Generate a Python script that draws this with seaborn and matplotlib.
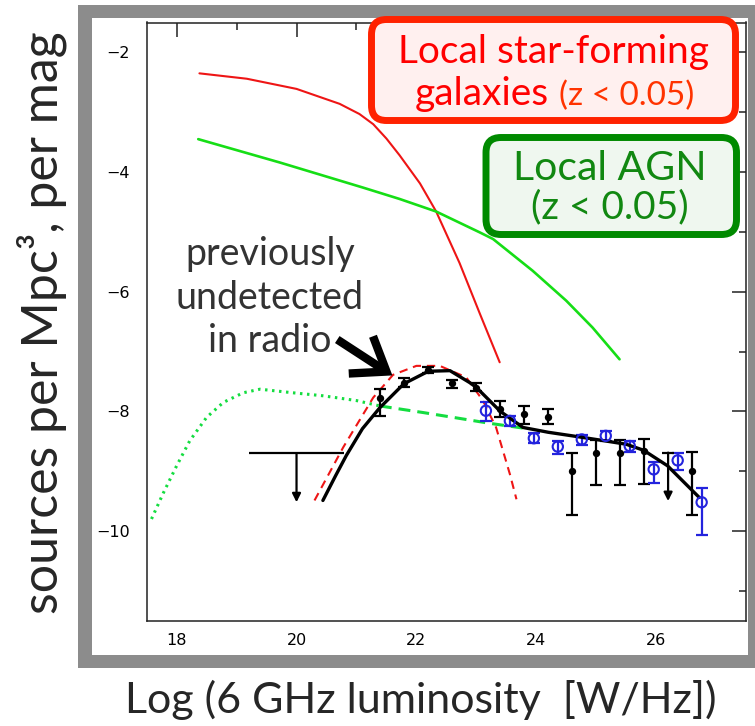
import numpy as np
import pandas as pd
import matplotlib
matplotlib.use("Agg")
import matplotlib.pyplot as plt
import matplotlib.transforms as mtransforms
from matplotlib.patches import Rectangle, FancyBboxPatch
import seaborn as sns

# ---------------- data ----------------
sf_x = [18.38, 19.17, 20.0, 20.72, 21.05, 21.28, 21.5, 21.72, 22.06, 22.33, 22.72, 23.06, 23.39]
sf_y = [-2.35, -2.44, -2.61, -2.86, -3.03, -3.20, -3.44, -3.72, -4.19, -4.66, -5.52, -6.37, -7.18]

agn_x = [18.36, 19.72, 21.11, 21.72, 22.33, 23.06, 23.28, 23.94, 24.5, 24.94, 25.39]
agn_y = [-3.45, -3.84, -4.26, -4.45, -4.66, -5.01, -5.12, -5.65, -6.15, -6.60, -7.13]

dot_x = [17.58, 17.78, 18.0, 18.22, 18.5, 18.78, 19.11, 19.39, 19.94, 20.44, 21.0, 21.39]
dot_y = [-9.80, -9.36, -8.91, -8.49, -8.10, -7.85, -7.69, -7.63, -7.69, -7.74, -7.82, -7.91]

gdash_x = [21.39, 22.11, 22.67, 23.22, 23.78]
gdash_y = [-7.91, -8.02, -8.11, -8.20, -8.28]

rdash_x = [20.3, 20.78, 21.28, 21.61, 22.0, 22.39, 22.83, 23.11, 23.33, 23.56, 23.67]
rdash_y = [-9.49, -8.60, -7.77, -7.39, -7.24, -7.24, -7.43, -7.82, -8.27, -9.05, -9.47]

fit_x = [20.44, 20.65, 20.83, 21.1, 21.39, 21.79, 22.2, 22.56, 22.89, 23.0, 23.4, 23.78, 24.2,
         24.67, 25.06, 25.5, 25.79, 26.19, 26.72]
fit_y = [-9.49, -9.08, -8.74, -8.29, -7.94, -7.54, -7.33, -7.32, -7.52, -7.60, -8.00, -8.27, -8.35,
         -8.42, -8.48, -8.55, -8.65, -8.91, -9.44]

blk_x = [21.4, 21.8, 22.2, 22.6, 23.0, 23.4, 23.8, 24.2, 24.6, 25.0, 25.4, 25.8, 26.6]
blk_y = [-7.78, -7.52, -7.31, -7.53, -7.61, -7.96, -8.04, -8.09, -8.99, -8.69, -8.69, -8.67, -8.99]
blk_up = [0.15, 0.07, 0.045, 0.06, 0.08, 0.13, 0.13, 0.13, 0.30, 0.21, 0.21, 0.21, 0.31]
blk_dn = [0.30, 0.08, 0.055, 0.08, 0.055, 0.13, 0.18, 0.12, 0.74, 0.54, 0.54, 0.54, 0.74]

blu_x = [23.16, 23.56, 23.96, 24.36, 24.76, 25.16, 25.56, 25.96, 26.36, 26.76]
blu_y = [-7.99, -8.16, -8.45, -8.59, -8.47, -8.41, -8.58, -8.97, -8.82, -9.52]
blu_up = [0.14, 0.09, 0.08, 0.10, 0.08, 0.08, 0.09, 0.13, 0.12, 0.23]
blu_dn = [0.18, 0.09, 0.08, 0.12, 0.09, 0.08, 0.10, 0.22, 0.16, 0.55]

ul_x = [20.0, 26.2]
ul_y = [-8.70, -8.69]
ul_halfwidth = [0.8, 0.1]
ul_depth = [0.82, 0.81]

x_ticks = [18, 20, 22, 24, 26]
y_ticks = [-2, -4, -6, -8, -10]

# ---------------- figure ----------------
sns.set_style("white")
plt.rcParams['font.family'] = ['Lato', 'DejaVu Sans']

W, H = 755, 726
fig = plt.figure(figsize=(W / 100, H / 100), dpi=100)
fig.patch.set_facecolor("white")
# transform: image pixels (origin top-left) -> figure
PX = mtransforms.Affine2D().scale(1 / W, -1 / H).translate(0, 1) + fig.transFigure

# grey frame
fig.patches.append(Rectangle((78, 5), 677, 663, transform=PX, facecolor="#8c8c8c",
                             edgecolor="none", zorder=-3))
fig.patches.append(Rectangle((92, 18), 656, 637, transform=PX, facecolor="white",
                             edgecolor="none", zorder=-2))

L, R, T, B = 146.7, 746.0, 22.5, 620.7
ax = fig.add_axes([L / W, 1 - B / H, (R - L) / W, (B - T) / H])
ax.set_facecolor("none")

RED = "#ee1515"
GREEN = "#16de16"
BLUE = "#2323dd"

sns.lineplot(x=sf_x, y=sf_y, ax=ax, color=RED, lw=1.5, sort=False, estimator=None)
sns.lineplot(x=agn_x, y=agn_y, ax=ax, color=GREEN, lw=1.9, sort=False, estimator=None)
sns.lineplot(x=dot_x, y=dot_y, ax=ax, color="#14dd40", lw=2.2, sort=False, estimator=None,
             linestyle=(0, (0.8, 1.5)), solid_capstyle="butt")
sns.lineplot(x=gdash_x, y=gdash_y, ax=ax, color="#14dd40", lw=2.2, sort=False, estimator=None,
             linestyle=(0, (3.9, 2.3)))
sns.lineplot(x=rdash_x, y=rdash_y, ax=ax, color=RED, lw=1.5, sort=False, estimator=None,
             linestyle=(0, (4, 2.8)))
sns.lineplot(x=fit_x, y=fit_y, ax=ax, color="black", lw=2.4, sort=False, estimator=None, zorder=5)

# error bars
ax.errorbar(blk_x, blk_y, yerr=[blk_dn, blk_up], fmt="none", ecolor="black",
            elinewidth=1.6, capsize=4, capthick=1.6, zorder=4)
sns.scatterplot(x=blk_x, y=blk_y, ax=ax, color="black", s=28, edgecolor="black",
                linewidth=0, zorder=6)
ax.errorbar(blu_x, blu_y, yerr=[blu_dn, blu_up], fmt="none", ecolor=BLUE,
            elinewidth=1.6, capsize=4, capthick=1.6, zorder=4)
sns.scatterplot(x=blu_x, y=blu_y, ax=ax, s=55, facecolor="none", edgecolor=BLUE,
                linewidth=1.5, zorder=6)

# upper limits
ax.errorbar(ul_x, ul_y, xerr=ul_halfwidth, fmt="none", ecolor="black", elinewidth=1.6,
            capsize=0, zorder=4)
for xv, yv, d in zip(ul_x, ul_y, ul_depth):
    ax.annotate("", xy=(xv, yv - d), xytext=(xv, yv),
                arrowprops=dict(arrowstyle="-|>,head_length=0.5,head_width=0.25",
                                color="black", lw=1.6, shrinkA=0, shrinkB=0), zorder=4)

# big arrow
ax.annotate("", xy=(21.6, -7.40), xytext=(20.68, -6.80),
            arrowprops=dict(arrowstyle="->,head_length=0.55,head_width=0.4",
                            color="black", lw=6, shrinkA=0, shrinkB=0,
                            mutation_scale=40, joinstyle="miter", capstyle="butt"),
            zorder=7)

ax.set_xlim(17.5, 27.5)
ax.set_ylim(-11.5, -1.5)
ax.set_xticks(x_ticks)
ax.set_yticks(y_ticks)
ax.set_xticks([19, 21, 23, 25, 27], minor=True)
ax.set_yticks([-3, -5, -7, -9, -11], minor=True)
ax.set_xticklabels([str(v) for v in x_ticks])
ax.set_yticklabels(["\u2212" + str(-v) for v in y_ticks])
ax.tick_params(which="both", direction="in", top=True, right=True, color="#222222",
               width=1.1, labelsize=11.5, labelcolor="black")
ax.tick_params(which="major", length=10)
ax.tick_params(which="minor", length=5)
ax.tick_params(axis="x", pad=9)
ax.tick_params(axis="y", pad=12)
for lab in ax.get_xticklabels() + ax.get_yticklabels():
    lab.set_family("DejaVu Sans")
for sp in ax.spines.values():
    sp.set_color("#222222")
    sp.set_linewidth(1.1)

# annotation text
TXT = "#333333"
for s, yb in zip(["previously", "undetected", "in radio"], [265, 309, 352]):
    fig.text(270, yb, s, transform=PX, ha="center", va="baseline", fontsize=27, color=TXT,
             zorder=8)

# labels
fig.text(42, 323, "sources per Mpc\u00b3, per mag", transform=PX, rotation=90, ha="center",
         va="center", fontsize=36, color="#262626")
fig.text(421, 700, "Log (6 GHz luminosity  [W/Hz])", transform=PX, ha="center", va="center",
         fontsize=31, color="#262626")

# boxes
fig.patches.append(FancyBboxPatch((371.5, 19.5), 364, 101, transform=PX,
                                  boxstyle="round,pad=0,rounding_size=15",
                                  facecolor="#fff0ef", edgecolor="#ff2200", lw=5, zorder=3))
fig.patches.append(FancyBboxPatch((486, 137.5), 250.5, 97, transform=PX,
                                  boxstyle="round,pad=0,rounding_size=15",
                                  facecolor="#eff7ef", edgecolor="#008a00", lw=5, zorder=3))
fig.text(554, 63, "Local star-forming", transform=PX, ha="center", va="baseline",
         fontsize=28, color="#ff0000", zorder=9)
fig.text(549, 105, "galaxies", transform=PX, ha="right", va="baseline",
         fontsize=28, color="#ff0000", zorder=9)
fig.text(559, 105, "(z < 0.05)", transform=PX, ha="left", va="baseline",
         fontsize=24, color="#ff3300", zorder=9)
fig.text(610, 180, "Local AGN", transform=PX, ha="center", va="baseline",
         fontsize=29.5, color="#118811", zorder=9)
fig.text(610, 218, "(z < 0.05)", transform=PX, ha="center", va="baseline",
         fontsize=28, color="#118811", zorder=9)

fig.savefig("out.png", dpi=100)
